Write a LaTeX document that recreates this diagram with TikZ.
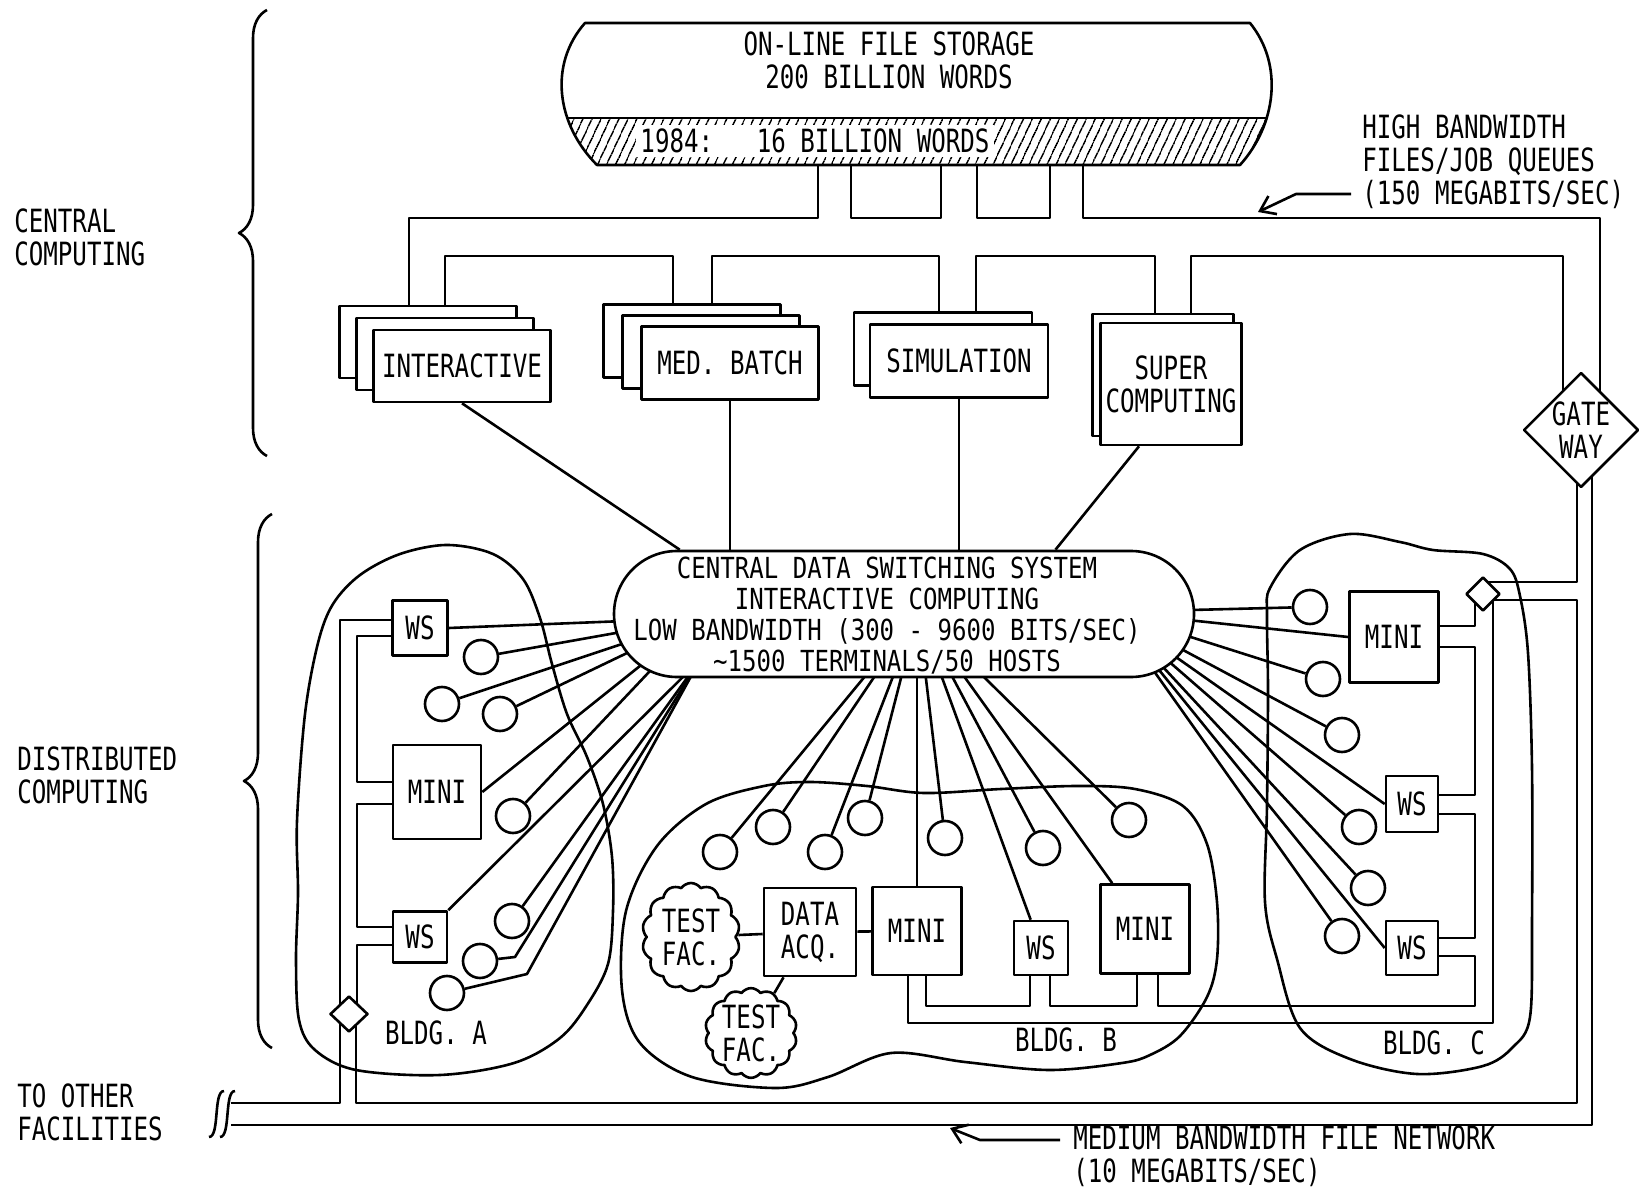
\documentclass[tikz,border=0pt]{standalone}
\usepackage{fontspec}
\usetikzlibrary{shapes.geometric,shapes.misc,shapes.symbols,shadows,patterns.meta,decorations.pathreplacing,arrows.meta}
\newfontfamily\plotfont[FakeStretch=0.755]{DejaVu Sans Mono}
\newfontfamily\plotfontw[FakeStretch=0.83]{DejaVu Sans Mono}
\newcommand\plotsize{\fontsize{16pt}{16.5pt}\selectfont}

\tikzset{
  box/.style={draw, fill=white, inner sep=0pt, align=center},
  term/.style={draw, fill=white, circle, minimum size=17pt, inner sep=0pt},
  junc/.style={draw, fill=white, diamond, inner sep=0pt, minimum width=18pt, minimum height=18pt},
  site/.style={draw, fill=white, cloud, cloud puffs=14, cloud puff arc=110, inner sep=0pt, align=center},
  lbl/.style={inner sep=0pt, align=left, anchor=west},
  arr/.style={-{Straight Barb[length=7pt,width=10pt]}},
}

\begin{document}
\begin{tikzpicture}[x=0.5pt, y=-0.5pt, line width=1.3pt, line join=round,
  every node/.style={font=\plotfont\plotsize, align=center}]
\useasboundingbox (0,0) rectangle (1644,1187);

% buildings
\draw plot[smooth cycle, tension=0.55] coordinates {(333,604) (360,575) (400,554) (447,545) (493,554) (523,579) (540,618) (552,664) (567,714) (587,757) (603,804) (612,857) (613,911) (608,964) (587,1005) (560,1038) (514,1063) (440,1075) (356,1070) (315,1050) (299,1020) (296,960) (298,893) (297,821) (305,714) (318,643)};
\draw plot[smooth cycle, tension=0.55] coordinates {(626,911) (657,846) (706,804) (764,786) (810,782) (867,786) (924,793) (1001,789) (1077,786) (1135,789) (1183,806) (1207,844) (1217,902) (1217,959) (1207,997) (1180,1036) (1150,1055) (1122,1063) (1049,1070) (965,1062) (891,1053) (828,1077) (776,1088) (692,1077) (640,1043) (622,990)};
\draw plot[smooth cycle, tension=0.55] coordinates {(1270,588) (1300,550) (1350,534) (1400,542) (1433,550) (1483,554) (1510,569) (1520,596) (1528,653) (1532,768) (1532,921) (1530,1017) (1513,1047) (1483,1066) (1417,1074) (1350,1059) (1300,1028) (1277,959) (1265,902) (1267,806) (1268,691) (1267,615)};

% high bandwidth pipes
\draw (409,310) -- (409,218) -- (818,218) -- (818,150);
\draw (851,150) -- (851,218) -- (941,218) -- (941,150);
\draw (977,150) -- (977,218) -- (1050,218) -- (1050,150);
\draw (1083,150) -- (1083,218) -- (1600,218) -- (1600,430);
\draw (445,310) -- (445,256) -- (673,256) -- (673,310);
\draw (712,310) -- (712,256) -- (939,256) -- (939,318);
\draw (976,318) -- (976,256) -- (1155,256) -- (1155,320);
\draw (1191,320) -- (1191,256) -- (1563,256) -- (1563,430);

% medium bandwidth pipes
\draw (1577,440) -- (1577,582) -- (1483,582);
\draw (1483,600) -- (1577,600) -- (1577,1103) -- (356,1103) -- (356,1014);
\draw (1592,440) -- (1592,1125) -- (231,1125);
\draw (231,1103) -- (340,1103) -- (340,1014);
\draw (400,620) -- (340,620) -- (340,1014);
\draw (400,636) -- (357,636) -- (357,782) -- (400,782);
\draw (400,804) -- (357,804) -- (357,927) -- (400,927);
\draw (400,945) -- (357,945) -- (357,1014);
\draw (1430,626) -- (1475,626) -- (1475,594);
\draw (1430,647) -- (1475,647) -- (1475,795) -- (1430,795);
\draw (1430,814) -- (1475,814) -- (1475,938) -- (1430,938);
\draw (1430,956) -- (1475,956) -- (1475,1006) -- (1158,1006) -- (1158,960);
\draw (1493,594) -- (1493,1023) -- (908,1023) -- (908,960);
\draw (926,960) -- (926,1006) -- (1030,1006) -- (1030,960);
\draw (1050,960) -- (1050,1006) -- (1137,1006) -- (1137,960);
\draw (209,1137) .. controls (220,1137) and (213,1091) .. (224,1091);
\draw (220,1137) .. controls (231,1137) and (224,1091) .. (235,1091);

% storage drum
\begin{scope}
  \clip (585,23) -- (1250,23) .. controls (1284,65) and (1276,125) .. (1240,165) -- (597,165) .. controls (557,125) and (548,65) .. (585,23) -- cycle;
  \fill[white] (520,0) rectangle (1300,200);
  \fill[pattern={Lines[angle=65,distance=4pt,line width=0.8pt]}] (520,118) rectangle (1300,170);
  \draw (520,118) -- (1300,118);
\end{scope}
\draw (585,23) -- (1250,23) .. controls (1284,65) and (1276,125) .. (1240,165) -- (597,165) .. controls (557,125) and (548,65) .. (585,23) -- cycle;
\node (store) at (889,60) {ON-LINE FILE STORAGE\\200 BILLION WORDS};
\node[fill=white, inner sep=2pt] (band) at (815,141) {1984:\ \ \ 16 BILLION WORDS};

% central computers
\node[box, minimum width=88.5pt, minimum height=36pt,
  copy shadow={shadow xshift=-17pt, shadow yshift=12pt},
  copy shadow={shadow xshift=-8.5pt, shadow yshift=6pt}] (inter) at (462,366) {INTERACTIVE};
\node[box, minimum width=88.5pt, minimum height=36.5pt,
  copy shadow={shadow xshift=-19pt, shadow yshift=11pt},
  copy shadow={shadow xshift=-9.5pt, shadow yshift=5.5pt}] (medb) at (730,363) {MED. BATCH};
\node[box, minimum width=89pt, minimum height=36.5pt,
  copy shadow={shadow xshift=-8pt, shadow yshift=6pt}] (sim) at (959,361) {SIMULATION};
\node[box, minimum width=70.5pt, minimum height=61pt,
  copy shadow={shadow xshift=-4pt, shadow yshift=4.5pt}] (super) at (1171,384) {SUPER\\COMPUTING};
\node[junc, minimum width=55pt, minimum height=53pt] (gw) at (1581,430) {GATE\\WAY};

% building A
\node[box, minimum width=27.5pt, minimum height=27.5pt] (wsA1) at (420,628) {WS};
\node[box, minimum width=44pt, minimum height=47pt] (miniA) at (437,792) {MINI};
\node[box, minimum width=27pt, minimum height=25.5pt] (wsA2) at (420,937) {WS};
\node[junc, minimum width=19pt] (dA) at (349,1014) {};
\node[term] (tA1) at (481,657) {};
\node[term] (tA2) at (442,704) {};
\node[term] (tA3) at (500,714) {};
\node[term] (tA4) at (513,816) {};
\node[term] (tA5) at (512,921) {};
\node[term] (tA6) at (480,961) {};
\node[term] (tA7) at (447,993) {};

% building B
\node[box, minimum width=46pt, minimum height=44pt] (dataq) at (810,932) {DATA\\ACQ.};
\node[box, minimum width=44.5pt, minimum height=44pt] (miniB1) at (917,931) {MINI};
\node[box, minimum width=27pt, minimum height=27pt] (wsB) at (1041,948) {WS};
\node[box, minimum width=44.5pt, minimum height=44.5pt] (miniB2) at (1145,929) {MINI};
\node[site, minimum width=49pt, minimum height=54pt] (testA) at (691,937) {TEST\\FAC.};
\node[site, minimum width=46pt, minimum height=42pt] (testB) at (751,1033) {TEST\\FAC.};
\node[term] (tB1) at (720,852) {};
\node[term] (tB2) at (773,827) {};
\node[term] (tB3) at (825,852) {};
\node[term] (tB4) at (865,818) {};
\node[term] (tB5) at (945,838) {};
\node[term] (tB6) at (1043,848) {};
\node[term] (tB7) at (1129,820) {};
\draw (testA) -- (dataq);
\draw (dataq) -- (testB);
\draw (dataq) -- (miniB1);

% building C
\node[box, minimum width=44.5pt, minimum height=45.5pt] (miniC) at (1394,637) {MINI};
\node[box, minimum width=26pt, minimum height=28pt] (wsC1) at (1412,804) {WS};
\node[box, minimum width=26pt, minimum height=27pt] (wsC2) at (1412,948) {WS};
\node[junc, minimum width=17pt, minimum height=17pt] (dC) at (1483,594) {};
\node[term] (tC1) at (1310,607) {};
\node[term] (tC2) at (1323,679) {};
\node[term] (tC3) at (1342,735) {};
\node[term] (tC4) at (1359,827) {};
\node[term] (tC5) at (1368,888) {};
\node[term] (tC6) at (1342,936) {};

% terminal lines into the switch
\coordinate (hubL) at (700,618);
\coordinate (hubL2) at (700,660);
\coordinate (hubB) at (918,612);
\coordinate (hubR) at (1112,612);
\coordinate (kA6) at (515,957);
\coordinate (kA7) at (527,974);
\foreach \t in {wsA1.east, tA1, tA2, tA3, miniA.east, tA4}
  \draw (\t) -- (hubL);
\foreach \t in {wsA2.north east, tA5}
  \draw (\t) -- (hubL2);
\draw (tA6) -- (kA6) -- (hubL2);
\draw (tA7) -- (kA7) -- (hubL2);
\foreach \t in {tB1, tB2, tB3, tB4, tB5, tB6, tB7, wsB, miniB2}
  \draw (\t) -- (hubB);
\draw (miniB1.north) -- (miniB1.north |- hubB);
\foreach \t in {tC1, tC2, tC3, tC4, tC5, tC6, miniC.west, wsC1.west, wsC2.west}
  \draw (\t) -- (hubR);

\node[draw, fill=white, rounded rectangle, minimum width=290pt, minimum height=63pt, inner sep=0pt] (csw) at (904,614) {};
\node[font=\plotfontw\fontsize{14.5pt}{15.5pt}\selectfont, inner sep=0pt] (cswtext) at (887,616)
  {CENTRAL DATA SWITCHING SYSTEM\\INTERACTIVE COMPUTING\\LOW BANDWIDTH (300 - 9600 BITS/SEC)\\∼1500 TERMINALS/50 HOSTS};

\draw (inter.south) -- (csw.164);
\draw (medb.south) -- (medb.south |- csw.north);
\draw (sim.south) -- (sim.south |- csw.north);
\draw ([xshift=-16pt]super.south) -- (csw.23);

% labels
\node[lbl] (cc) at (13,237) {CENTRAL\\COMPUTING};
\node[lbl] (dc) at (16,775) {DISTRIBUTED\\COMPUTING};
\node[lbl] (tof) at (16,1112) {TO OTHER\\FACILITIES};
\node[lbl] (hbw) at (1361,162) {HIGH BANDWIDTH\\FILES/JOB QUEUES\\(150 MEGABITS/SEC)};
\node[lbl] (mbw) at (1072,1156) {MEDIUM BANDWIDTH FILE NETWORK\\(10 MEGABITS/SEC)};
\node (bA) at (436,1033) {BLDG. A};
\node (bB) at (1066,1040) {BLDG. B};
\node (bC) at (1434,1043) {BLDG. C};

\draw[arr] ([xshift=-5pt,yshift=-16pt]hbw.west) -- ++(-55,0) -- ++(-38,18);
\draw[arr] ([xshift=-6pt,yshift=8pt]mbw.west) -- ++(-80,0) -- ++(-30,-12);

\draw[decorate, decoration={brace, amplitude=14pt}] (267,456) -- (267,10);
\draw[decorate, decoration={brace, amplitude=14pt}] (272,1048) -- (272,514);
\end{tikzpicture}
\end{document}
